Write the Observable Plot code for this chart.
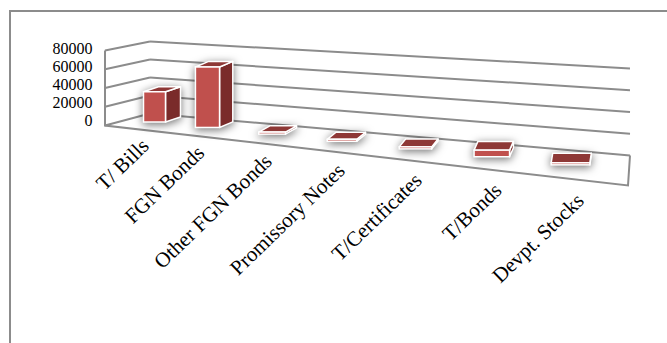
<!DOCTYPE html>
<html><head><meta charset="utf-8">
<script src="https://cdn.jsdelivr.net/npm/d3@7"></script>
<script src="https://cdn.jsdelivr.net/npm/@observablehq/plot@0.6"></script>
<style>
html,body{margin:0;padding:0;background:#fff;overflow:hidden;width:667px;height:343px}
#wrap{position:relative;width:667px;height:343px}
#border{position:absolute;left:9px;top:10px;width:800px;height:500px;border:2px solid #8c8c8c;pointer-events:none}
#chart{position:absolute;left:0;top:0}
</style></head><body>
<div id="wrap"><div id="border"></div><div id="chart"></div></div>
<script>
// data
const categories = ["T/ Bills","FGN Bonds","Other FGN Bonds","Promissory Notes","T/Certificates","T/Bonds","Devpt. Stocks"];
const values = [32000, 64000, 400, 600, 300, 7000, 100];
const yTicks = [0, 20000, 40000, 60000, 80000];

const table = categories.map((name, i) => ({name, i, value: values[i]}));
const idx = table.map(d => d.i);

const GRID = "#8c8c8c", FRONT = "#c0504d";
const font = "'Liberation Serif','Times New Roman',serif";
const plot = Plot.plot({
  width: 667, height: 343,
  marginLeft: 150, marginRight: 37, marginTop: 41, marginBottom: 230,
  style: {fontFamily: font, background: "transparent", color: "#000", overflow: "visible"},
  x: {type: "pow", exponent: 1.15, domain: [0, categories.length - 1], range: [154, 570], axis: null, label: null},
  y: {domain: [0, 80000], axis: null, label: null},
  marks: [
    Plot.ruleY(yTicks, {stroke: GRID, strokeWidth: 2}),
    Plot.axisY(yTicks, {tickSize: 0, tickPadding: 58, dy: 7, fontSize: 16, label: null, tickFormat: d => String(d)}),
    Plot.ruleX(table, {x: "i", y1: 0, y2: "value", stroke: FRONT, strokeWidth: 23}),
    Plot.axisX(idx, {tickSize: 0, tickPadding: 30, tickRotate: -44, fontSize: 21, label: null, tickFormat: i => categories[i]})
  ]
});
document.getElementById("chart").appendChild(plot);

// ---- pseudo-3D styling (derived from the rendered marks) ----
const NS = "http://www.w3.org/2000/svg";
const num = (el, a) => parseFloat(el.getAttribute(a));
const mk = (tag, attrs) => { const e = document.createElementNS(NS, tag); for (const k in attrs) e.setAttribute(k, attrs[k]); return e; };

const groups = Array.from(plot.querySelectorAll("g"));
const gridG = groups.find(g => (g.getAttribute("stroke") || "").toLowerCase() === GRID);
const barG = groups.find(g => (g.getAttribute("stroke") || "").toLowerCase() === FRONT);

// back wall + side wall gridlines with perspective slope
if (gridG) {
  let zeroFront = null, zeroEnd = null, topFront = null;
  Array.from(gridG.querySelectorAll("line")).forEach(line => {
    const x1 = num(line, "x1"), x2 = num(line, "x2"), y = num(line, "y1");
    const t = (y - 41) / 72;
    const slope = 0.056 + t * 0.0315;
    const yEnd = y + slope * (x2 - x1);
    line.setAttribute("y2", yEnd);
    const yf = 50 + (y - 41) * 75 / 72;
    const xf = x1 - 45;
    gridG.appendChild(mk("line", {x1: xf, y1: yf, x2: x1, y2: y}));
    if (t > 0.95) { zeroFront = [xf, yf]; zeroEnd = [x2, yEnd]; }
    if (t < 0.05) topFront = [xf, yf];
  });
  if (zeroFront && zeroEnd && topFront) {
    gridG.appendChild(mk("path", {fill: "none",
      d: `M${topFront[0]},${topFront[1]}L${zeroFront[0]},${zeroFront[1]}L${zeroEnd[0] - 2},${zeroEnd[1] + 30}L${zeroEnd[0]},${zeroEnd[1]}`}));
  }
}

// bars as 3D blocks (perspective: faces change with horizontal position)
if (barG) {
  barG.style.filter = "drop-shadow(0px 2px 4px rgba(0,0,0,0.55))";
  Array.from(barG.querySelectorAll("line")).forEach(line => {
    const x = num(line, "x1"), y0 = num(line, "y1"), yv = num(line, "y2");
    const u = x - 154;
    const w = 22 + 0.04 * u;
    const ddx = Math.max(1.5, 15 - 0.033 * u);
    const ddy = -5 - 0.011 * u;
    const h = Math.max(2, (y0 - yv) * 1.05);
    const base = 122 + 0.103 * u;
    const top = base - h;
    line.setAttribute("y1", base);
    line.setAttribute("y2", top);
    line.setAttribute("stroke-width", w);
    const xl = x - w / 2, xr = x + w / 2;
    const parent = line.parentNode;
    parent.insertBefore(mk("polygon", {points: `${xr},${top} ${xr + ddx},${top + ddy} ${xr + ddx},${base + ddy} ${xr},${base}`,
      fill: "#7a2b2a", stroke: "#fff", "stroke-width": 1.5, "stroke-linejoin": "round"}), line);
    parent.insertBefore(mk("polygon", {points: `${xl},${top} ${xl + ddx},${top + ddy} ${xr + ddx},${top + ddy} ${xr},${top}`,
      fill: "#8e3836", stroke: "#fff", "stroke-width": 1.5, "stroke-linejoin": "round"}), line);
    parent.insertBefore(mk("rect", {x: xl, y: top, width: w, height: h, fill: "none", stroke: "#fff", "stroke-width": 1.5}), line.nextSibling);
  });
}

// x labels follow the sloping floor (perspective spread)
Array.from(plot.querySelectorAll("text")).forEach(t => {
  const tr = t.getAttribute("transform") || "";
  if (!/rotate/.test(tr)) return;
  const m = tr.match(/translate\(\s*([-\d.]+)[ ,]+([-\d.]+)\s*\)/);
  if (m) {
    const x = +m[1], y = +m[2];
    const nx = x - 9 + 0.0457 * (x - 154);
    const ny = y - 1 + 0.126 * (nx - 145);
    t.setAttribute("transform", tr.replace(m[0], `translate(${nx},${ny})`));
  }
});
</script>
</body></html>
